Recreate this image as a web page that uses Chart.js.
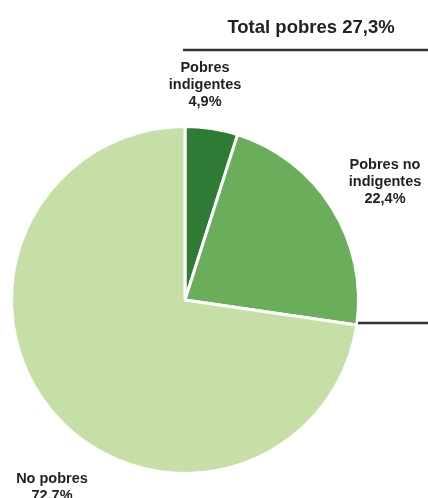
<!DOCTYPE html>
<html>
<head>
<meta charset="utf-8">
<script src="https://cdn.jsdelivr.net/npm/chart.js@4/dist/chart.umd.min.js"></script>
<style>
  html, body { margin: 0; padding: 0; background: #fff; }
  #wrap { width: 428px; height: 498px; position: relative; }
</style>
</head>
<body>
<div id="wrap"><canvas id="pobreza"></canvas></div>
<script>
const categories = ['Pobres indigentes', 'Pobres no indigentes', 'No pobres'];
const shares = [4.9, 22.4, 72.7];
const sliceColors = ['#2f7b36', '#6aad5b', '#c6dfa7'];
const totalLabel = 'Total pobres 27,3%';

const fmt = v => v.toFixed(1).replace('.', ',') + '%';

// labels around the pie, drawn as text on the canvas
const labelBlocks = [
    { lines: ['Pobres', 'indigentes', fmt(shares[0])], x: 205, y: 68 },
    { lines: ['Pobres no', 'indigentes', fmt(shares[1])], x: 385, y: 165 },
    { lines: ['No pobres', fmt(shares[2])], x: 52, y: 479 }
];

const annotations = {
    id: 'annotations',
    afterDraw(chart) {
        const ctx = chart.ctx;
        ctx.save();
        ctx.fillStyle = '#222';
        ctx.textAlign = 'center';
        ctx.textBaseline = 'middle';
        ctx.font = 'bold 18.5px "Liberation Sans", Arial, sans-serif';
        ctx.fillText(totalLabel, 311, 28);

        ctx.strokeStyle = '#333';
        ctx.lineWidth = 2.5;
        ctx.beginPath();
        ctx.moveTo(183, 50);
        ctx.lineTo(428, 50);
        ctx.moveTo(358, 323);
        ctx.lineTo(428, 323);
        ctx.stroke();

        ctx.font = 'bold 14.5px "Liberation Sans", Arial, sans-serif';
        labelBlocks.forEach(b => {
            b.lines.forEach((t, i) => ctx.fillText(t, b.x, b.y + i * 17));
        });
        ctx.restore();
    }
};

new Chart(document.getElementById('pobreza').getContext('2d'), {
    type: 'pie',
    data: {
        labels: categories,
        datasets: [{
            data: shares,
            backgroundColor: sliceColors,
            borderColor: '#fff',
            borderWidth: 3
        }]
    },
    options: {
        responsive: true,
        maintainAspectRatio: false,
        animation: false,
        layout: { padding: { left: 10, right: 68, top: 125, bottom: 23 } },
        plugins: {
            legend: { display: false },
            tooltip: { enabled: false }
        }
    },
    plugins: [annotations]
});
</script>
</body>
</html>
